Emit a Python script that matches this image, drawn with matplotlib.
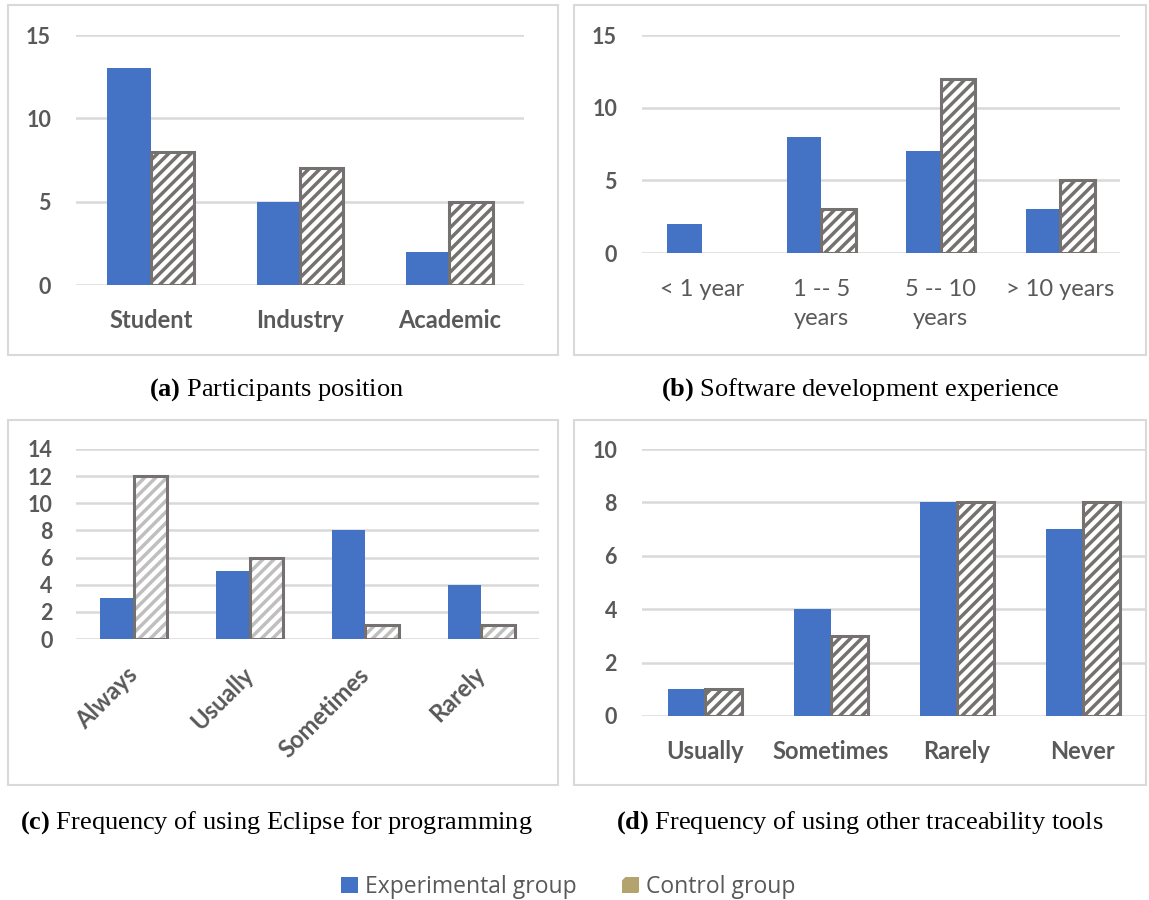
import matplotlib
matplotlib.use("Agg")
import matplotlib.pyplot as plt
import numpy as np
from matplotlib.patches import Rectangle, Patch

# data
pos_labels = ["Student", "Industry", "Academic"]
pos_exp = [13, 5, 2]
pos_ctl = [8, 7, 5]

exp_labels = ["< 1 year", "1 -- 5\nyears", "5 -- 10\nyears", "> 10 years"]
exp_exp = [2, 8, 7, 3]
exp_ctl = [0, 3, 12, 5]

ecl_labels = ["Always", "Usually", "Sometimes", "Rarely"]
ecl_exp = [3, 5, 8, 4]
ecl_ctl = [12, 6, 1, 1]

trc_labels = ["Usually", "Sometimes", "Rarely", "Never"]
trc_exp = [1, 4, 8, 7]
trc_ctl = [1, 3, 8, 8]

BLUE = "#4472C4"
EDGE = "#767171"
GRID = "#d9d9d9"
TXT = "#595959"

plt.rcParams['hatch.linewidth'] = 2.5
plt.rcParams['mathtext.fontset'] = 'custom'
plt.rcParams['mathtext.rm'] = 'Liberation Serif'
plt.rcParams['mathtext.bf'] = 'Liberation Serif:bold'

W, H = 1149, 900
fig = plt.figure(figsize=(W / 100, H / 100), dpi=100)


def fr(x0, y0, x1, y1):
    # pixel box (top-left origin) -> figure fraction rect
    return [x0 / W, 1 - y1 / H, (x1 - x0) / W, (y1 - y0) / H]


def panel(rect, labels, exp, ctl, ymax, step, hatch_col=EDGE, xweight="bold"):
    ax = fig.add_axes(rect)
    x = np.arange(len(labels))
    w = 0.29
    ax.bar(x - w / 2, exp, w, color=BLUE, zorder=3)
    hb = ax.bar(x + w / 2, ctl, w, color="white", edgecolor=hatch_col,
                hatch="///", linewidth=0, zorder=3)
    ob = ax.bar(x + w / 2, ctl, w, fill=False, edgecolor=EDGE,
                linewidth=2.2, zorder=4)
    for b1, b2, v in zip(hb, ob, ctl):
        if v == 0:
            b1.set_visible(False)
            b2.set_visible(False)
    ax.set_ylim(0, ymax)
    ax.set_yticks(np.arange(0, ymax + 0.1, step))
    ax.set_xlim(-0.5, len(labels) - 0.5)
    ax.set_xticks(x)
    ax.set_xticklabels(labels)
    ax.yaxis.grid(True, color=GRID, linewidth=1.8, zorder=0)
    ax.set_axisbelow(True)
    for s in ax.spines.values():
        s.set_visible(False)
    ax.tick_params(length=0, labelcolor=TXT)
    ax.tick_params(axis="y", labelsize=15.5, pad=18)
    ax.tick_params(axis="x", labelsize=17, pad=17)
    for t in ax.get_yticklabels():
        t.set_fontfamily("Lato")
        t.set_fontweight("bold")
    for t in ax.get_xticklabels():
        t.set_fontfamily("Lato")
        t.set_fontweight(xweight)
    return ax


# panel frames
for x0, y0, x1, y1 in [(8, 5, 558, 355), (574, 5, 1146, 355),
                       (8, 420, 558, 785), (574, 420, 1146, 785)]:
    fig.patches.append(Rectangle((x0 / W, 1 - y1 / H), (x1 - x0) / W, (y1 - y0) / H,
                                 transform=fig.transFigure, fill=False,
                                 edgecolor=GRID, linewidth=1.5))

ax_a = panel(fr(76, 35, 524, 285), pos_labels, pos_exp, pos_ctl, 15, 5)

ax_b = panel(fr(642, 35, 1120, 253), exp_labels, exp_exp, exp_ctl, 15, 5, xweight="normal")
ax_b.tick_params(axis="x", pad=19)
for t in ax_b.get_xticklabels():
    t.set_linespacing(1.45)

ax_c = panel(fr(76, 449, 539, 639), ecl_labels, ecl_exp, ecl_ctl, 14, 2,
             hatch_col="#bfbfbf")
ax_c.tick_params(axis="y", pad=17)
ax_c.tick_params(axis="x", pad=23)
for t in ax_c.get_xticklabels():
    t.set_rotation(45)
    t.set_ha("right")
    t.set_va("center")
    t.set_rotation_mode("anchor")

ax_d = panel(fr(642, 449, 1146, 716), trc_labels, trc_exp, trc_ctl, 10, 2)

# captions
cap = dict(fontsize=19, ha="center", va="center", family="Liberation Serif")
fig.text(276 / W, 1 - 390 / H, r"$\mathbf{(a)}$ Participants position", **cap)
fig.text(860 / W, 1 - 390 / H, r"$\mathbf{(b)}$ Software development experience", **cap)
fig.text(276 / W, 1 - 823 / H, r"$\mathbf{(c)}$ Frequency of using Eclipse for programming", **cap)
fig.text(860 / W, 1 - 823 / H, r"$\mathbf{(d)}$ Frequency of using other traceability tools", **cap)

handles = [Patch(facecolor=BLUE, label="Experimental group"),
           Patch(facecolor="#b3a46e", edgecolor="white", hatch="/", linewidth=0,
                 label="Control group")]
leg = fig.legend(handles=handles, loc="center", bbox_to_anchor=(568 / W, 1 - 887 / H),
                 ncol=2, frameon=False, handlelength=0.75, handleheight=0.75,
                 handletextpad=0.3, columnspacing=2.0,
                 prop={"family": "Open Sans", "size": 16.5})
for t in leg.get_texts():
    t.set_color(TXT)

fig.savefig("out.png", dpi=100)
